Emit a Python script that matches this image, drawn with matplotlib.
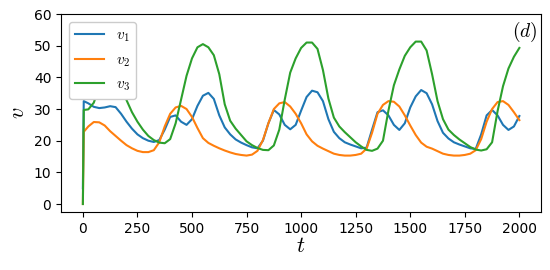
import matplotlib
matplotlib.use("Agg")
import matplotlib.pyplot as plt

plt.rcParams['mathtext.fontset'] = 'cm'

# time samples
t = [0, 4] + list(range(25, 2001, 25))

v1 = [5.0, 32.5,
      31.8, 30.7, 30.3, 30.5, 30.9, 30.6, 28.5, 26.0,
      23.8, 22.0, 20.8, 20.0, 19.6, 20.2, 23.5, 27.5,
      28.0, 26.0, 25.0, 26.8, 31.0, 34.2, 35.1, 33.2,
      28.0, 24.2, 22.0, 20.4, 19.4, 18.6, 17.9, 17.6,
      20.0, 25.5, 29.7, 28.3, 25.0, 23.6, 25.0, 29.5,
      33.8, 35.8, 35.3, 32.5, 26.8, 22.8, 20.8, 19.5,
      18.8, 18.2, 17.6, 17.8, 23.5, 29.0, 29.6, 28.0,
      25.0, 23.4, 25.5, 30.5, 34.0, 36.0, 35.0, 31.5,
      26.2, 22.5, 20.7, 19.5, 18.8, 18.2, 17.6, 17.4,
      22.0, 28.0, 29.7, 28.0, 25.0, 23.4, 24.5, 27.8]

v2 = [0.0, 22.8,
      24.5, 25.9, 25.8, 24.8, 23.0, 21.5, 20.0, 18.6,
      17.6, 16.8, 16.4, 16.4, 17.0, 19.5, 24.5, 28.5,
      30.5, 31.0, 30.0, 27.5, 24.0, 20.8, 19.3, 18.4,
      17.6, 16.9, 16.3, 15.8, 15.5, 15.3, 15.6, 16.8,
      20.2, 25.5, 30.0, 31.8, 32.2, 30.8, 28.5, 25.5,
      22.0, 19.8, 18.4, 17.5, 16.7, 15.9, 15.5, 15.3,
      15.3, 15.5, 15.9, 17.5, 22.5, 28.5, 31.3, 32.5,
      32.3, 30.8, 28.0, 24.8, 21.8, 19.4, 18.1, 17.5,
      16.7, 15.9, 15.5, 15.3, 15.3, 15.5, 15.9, 17.0,
      20.5, 26.0, 30.0, 32.2, 32.5, 31.3, 29.0, 26.5]

v3 = [0.0, 29.7,
      29.9, 32.0, 37.0, 42.0, 44.0, 42.0, 38.5, 32.8,
      29.0, 26.0, 23.5, 21.5, 20.2, 19.4, 19.2, 20.5,
      25.5, 33.0, 40.5, 46.0, 49.5, 50.5, 49.5, 47.0,
      41.0, 31.5, 26.3, 23.8, 21.8, 19.8, 18.6, 17.7,
      17.1, 17.0, 18.5, 23.5, 33.0, 41.5, 46.0, 49.3,
      51.0, 51.0, 49.0, 42.3, 33.3, 27.3, 24.5, 22.7,
      21.1, 19.5, 18.2, 17.1, 16.8, 17.5, 20.0, 29.5,
      37.5, 42.5, 46.8, 49.5, 51.3, 51.3, 48.5, 41.0,
      32.5, 26.8, 23.5, 21.8, 20.4, 19.2, 18.0, 17.2,
      16.9, 17.3, 19.5, 29.3, 37.2, 42.8, 46.5, 49.3]

fig = plt.figure(figsize=(5.5, 2.7), dpi=100)
ax = fig.add_axes([0.111, 0.215, 0.873, 0.733])

ax.plot(t, v1, label=r"$v_1$", lw=1.5)
ax.plot(t, v2, label=r"$v_2$", lw=1.5)
ax.plot(t, v3, label=r"$v_3$", lw=1.5)

ax.set_xlim(-100, 2100)
ax.set_ylim(-2.5, 60)
ax.set_xticks([0, 250, 500, 750, 1000, 1250, 1500, 1750, 2000])
ax.set_yticks([0, 10, 20, 30, 40, 50, 60])
ax.set_xlabel(r"$t$", fontsize=16, labelpad=0)
ax.set_ylabel(r"$v$", fontsize=16, labelpad=4)
ax.text(0.992, 0.91, r"$(d)$", transform=ax.transAxes, ha="right", va="center", fontsize=14)
ax.legend(loc="upper left", fontsize=11, handlelength=1.9, framealpha=1)

fig.savefig("out.png", dpi=100)
